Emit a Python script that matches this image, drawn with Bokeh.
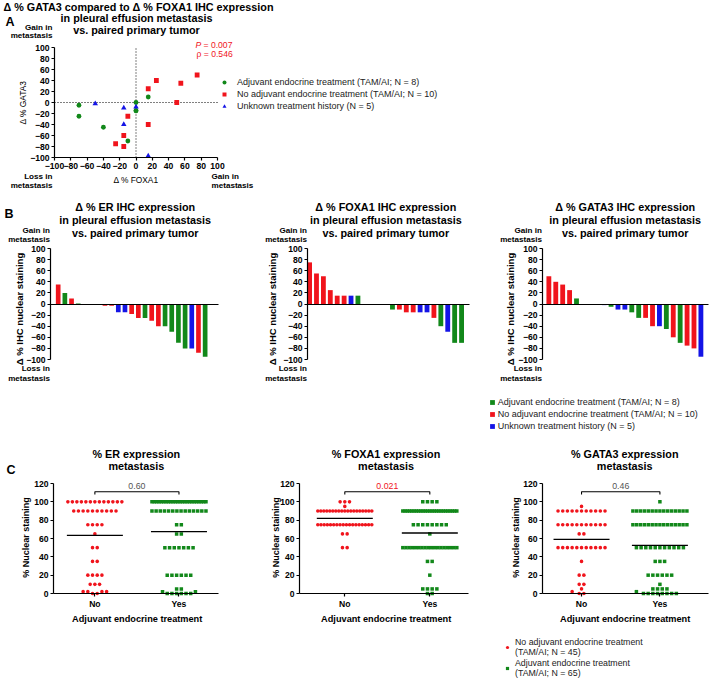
import math
from bokeh.plotting import figure
from bokeh.models import Label, Legend, LegendItem, Range1d, FixedTicker, ColumnDataSource
from bokeh.layouts import column, row
from bokeh.embed import file_html
from bokeh.resources import INLINE

FONT = "Liberation Sans"
RED, GREEN, BLUE = "#f0141c", "#12881a", "#1414e6"
MINUS = "\u2212"
TITLE_SIZE = "10.8px"
TICK_SIZE = "8.6px"

# ---------------- data ----------------
# Panel A: delta % FOXA1 (x) vs delta % GATA3 (y)
a_adj_foxa1 = [-70, -70, -40, 0, 0, 15, -10, 0]
a_adj_gata3 = [-5, -25, -45, 0, -15, 10, -70, -15]
a_noadj_foxa1 = [15, 25, 50, 55, 75, 15, -10, -15, -25, -15]
a_noadj_gata3 = [25, 40, 0, 35, 50, -40, -25, -60, -75, -80]
a_unk_foxa1 = [-50, -15, -15, 15, 0]
a_unk_gata3 = [-2, -10, -40, -97, -8]
a_legend = ["Adjuvant endocrine treatment (TAM/AI; N = 8)",
            "No adjuvant endocrine treatment (TAM/AI; N = 10)",
            "Unknown treatment history (N = 5)"]

# Panel B: waterfall bars (A = adjuvant, N = no adjuvant, U = unknown)
b_er = [35, 20, 10, 1, 0, 0, 0, -3, -3, -15, -15, -18, -25, -25, -30, -40, -40, -50, -70, -80, -80, -88, -95]
b_er_grp = ["N", "A", "N", "A", "N", "U", "U", "N", "N", "U", "U", "N", "N", "A", "N", "N", "A", "A", "A", "A", "U", "N", "A"]
b_foxa1 = [75, 55, 50, 25, 15, 15, 15, 15, 0, 0, 0, 0, -10, -10, -15, -15, -15, -15, -25, -40, -50, -70, -70]
b_foxa1_grp = ["N", "N", "N", "N", "N", "N", "U", "A", "A", "A", "A", "U", "A", "N", "N", "N", "U", "U", "N", "A", "U", "A", "A"]
b_gata3 = [50, 40, 35, 25, 10, 0, 0, 0, -2, -5, -10, -10, -15, -25, -25, -40, -40, -45, -60, -70, -75, -80, -95]
b_gata3_grp = ["N", "N", "N", "N", "A", "N", "A", "A", "U", "A", "U", "U", "A", "A", "N", "N", "U", "A", "N", "A", "N", "N", "U"]
b_titles = [["\u0394 % ER IHC expression", "in pleural effusion metastasis", "vs. paired primary tumor"],
            ["\u0394 % FOXA1 IHC expression", "in pleural effusion metastasis", "vs. paired primary tumor"],
            ["\u0394 % GATA3 IHC expression", "in pleural effusion metastasis", "vs. paired primary tumor"]]

# Panel C: % nuclear staining in metastasis (value / count pairs)
c_er_no_vals, c_er_no_counts = [100, 90, 75, 65, 50, 35, 20, 10, 2, 0], [13, 10, 4, 1, 2, 2, 4, 3, 4, 2]
c_er_yes_vals, c_er_yes_counts = [100, 90, 75, 65, 50, 20, 5, 2, 0], [24, 14, 2, 2, 7, 6, 2, 2, 6]
c_fox_no_vals, c_fox_no_counts = [100, 95, 90, 75, 65, 50], [3, 1, 19, 18, 2, 2]
c_fox_yes_vals, c_fox_yes_counts = [100, 90, 75, 65, 50, 35, 20, 5, 0], [4, 25, 8, 1, 18, 2, 1, 4, 2]
c_gata_no_vals, c_gata_no_counts = [95, 90, 75, 65, 50, 35, 20, 10, 5, 2, 0], [1, 11, 11, 2, 11, 1, 2, 2, 1, 1, 2]
c_gata_yes_vals, c_gata_yes_counts = [100, 90, 75, 50, 35, 20, 10, 5, 2, 0], [1, 15, 15, 11, 3, 6, 1, 4, 1, 8]
c_means = [[63.5, 67.5], [82, 66], [59, 52.5]]
c_pvals = ["0.60", "0.021", "0.46"]
c_titles = [["% ER expression", "metastasis"], ["% FOXA1 expression", "metastasis"], ["% GATA3 expression", "metastasis"]]
c_groups = ["No", "Yes"]
c_legend = ["No adjuvant endocrine treatment\n(TAM/AI; N = 45)", "Adjuvant endocrine treatment\n(TAM/AI; N = 65)"]


# ---------------- helpers ----------------
def make_fig(box, geom):
    """box = figure placement on the page; geom = where the data region sits on the page."""
    bx0, by0, w, h = box
    fx0, fx1, fy0, fy1, xr, yr = geom
    sx = (xr[1] - xr[0]) / (fx1 - fx0)
    sy = (yr[1] - yr[0]) / (fy1 - fy0)
    x_rng = Range1d(xr[0] - (fx0 - bx0) * sx, xr[1] + (bx0 + w - fx1) * sx)
    y_rng = Range1d(yr[0] - (by0 + h - fy1) * sy, yr[1] + (fy0 - by0) * sy)
    p = figure(width=w, height=h, x_range=x_rng, y_range=y_rng,
               output_backend="svg", toolbar_location=None,
               min_border=0, min_border_left=0, min_border_right=0,
               min_border_top=0, min_border_bottom=0)
    p.title.visible = False
    p.outline_line_color = None
    p.xgrid.visible = False
    p.ygrid.visible = False
    p.background_fill_color = "white"
    p.border_fill_color = "white"
    p.xaxis.fixed_location = yr[0]
    p.yaxis.fixed_location = xr[0]
    p.xaxis.bounds = xr
    p.yaxis.bounds = yr
    for ax in (p.xaxis, p.yaxis):
        ax.axis_line_color = "black"
        ax.axis_line_width = 1.2
        ax.major_tick_line_color = "black"
        ax.major_tick_line_width = 1.2
        ax.major_tick_out = 3
        ax.major_tick_in = 0
        ax.minor_tick_line_color = None
        ax.major_label_text_font = FONT
        ax.major_label_text_font_size = TICK_SIZE
        ax.major_label_text_font_style = "bold"
        ax.major_label_text_color = "black"
        ax.major_label_standoff = 2
    return p


def page_to_data(geom, px, py):
    fx0, fx1, fy0, fy1, xr, yr = geom
    x = xr[0] + (px - fx0) / (fx1 - fx0) * (xr[1] - xr[0])
    y = yr[1] - (py - fy0) / (fy1 - fy0) * (yr[1] - yr[0])
    return x, y


def text(p, geom, px, py, s, size="8.1px", style="bold", align="left", color="black", angle=0.0):
    x, y = page_to_data(geom, px, py)
    p.add_layout(Label(x=x, y=y, text=s, text_font=FONT, text_font_size=size,
                       text_font_style=style, text_align=align, text_baseline="middle",
                       text_color=color, angle=angle))


def num_ticks(ax, ticks):
    ax.ticker = FixedTicker(ticks=ticks)
    ax.major_label_overrides = {t: (MINUS + str(-t) if t < 0 else str(t)) for t in ticks}


def expand(vals, counts):
    out = []
    for v, c in zip(vals, counts):
        out += [v] * c
    return out


def swarm(values, xpx, ypx, d=4.7, cap=27.0):
    offs = [0.0] * len(values)
    placed = []
    for v in sorted(set(values)):
        idx = [i for i, w in enumerate(values) if w == v]
        n = len(idx)
        yy = v * ypx
        if n > 1 and (n - 1) * d > 2 * cap:
            s = 2 * cap / (n - 1)
            for k, i in enumerate(idx):
                offs[i] = (k - (n - 1) / 2) * s / xpx
            continue
        half = 0.5 if n % 2 == 0 else 0.0
        cands = []
        for k in range(40):
            for sg in (-1, 1):
                c = sg * (k + half) * d
                if c not in cands:
                    cands.append(c)
        chosen = []
        for c in cands:
            if len(chosen) == n:
                break
            if all(not (abs(c - qx) < 0.95 * d and abs(yy - qy) < 0.95 * d) for qx, qy in placed):
                chosen.append(c)
        chosen.sort()
        for i, c in zip(idx, chosen):
            offs[i] = c / xpx
        placed += [(c, yy) for c in chosen]
    return offs


def legend(items, loc, gw, gh, standoff, spacing, size):
    return Legend(items=items, location=loc, label_text_font=FONT, label_text_font_size=size,
                  label_text_color="#222222", glyph_width=gw, glyph_height=gh, label_height=10,
                  label_standoff=standoff, spacing=spacing, padding=0, margin=0,
                  border_line_color=None, background_fill_alpha=0)


cmap = {"A": GREEN, "N": RED, "U": BLUE}
VERT = math.pi / 2

# ---------------- Panel A ----------------
gA = (54, 217, 47, 157, (-100, 100), (-100, 100))
pA = make_fig((0, 0, 709, 196), gA)
ticksA = list(range(-100, 101, 20))
num_ticks(pA.xaxis, ticksA)
num_ticks(pA.yaxis, ticksA)
pA.line([0, 0], list(gA[5]), line_color="black", line_width=1, line_dash="1 2")
pA.line(list(gA[4]), [0, 0], line_color="black", line_width=1, line_dash="1 2")
rA1 = pA.scatter(a_adj_foxa1, a_adj_gata3, marker="circle", size=4.8, fill_color=GREEN, line_color=None)
rA2 = pA.scatter(a_noadj_foxa1, a_noadj_gata3, marker="square", size=4.8, fill_color=RED, line_color=None)
rA3 = pA.scatter(a_unk_foxa1, a_unk_gata3, marker="triangle", size=5.5, fill_color=BLUE, line_color=None)
pA.add_layout(legend([LegendItem(label=a_legend[0], renderers=[rA1]),
                      LegendItem(label=a_legend[1], renderers=[rA2]),
                      LegendItem(label=a_legend[2], renderers=[rA3])],
                     (219, 196 - 111), 10, 10, 8, 2, "9px"))
text(pA, gA, 138, 6, "\u0394 % GATA3 compared to \u0394 % FOXA1 IHC expression", size=TITLE_SIZE, align="center")
text(pA, gA, 136, 17.5, "in pleural effusion metastasis", size=TITLE_SIZE, align="center")
text(pA, gA, 136, 29.5, "vs. paired primary tumor", size=TITLE_SIZE, align="center")
text(pA, gA, 5, 21, "A", size="12.5px")
text(pA, gA, 52, 26.5, "Gain in", align="right")
text(pA, gA, 52, 35, "metastasis", align="right")
text(pA, gA, 52, 175.5, "Loss in", align="right")
text(pA, gA, 52, 184.5, "metastasis", align="right")
text(pA, gA, 211, 175.5, "Gain in")
text(pA, gA, 211, 184.5, "metastasis")
text(pA, gA, 195, 44, "P", size="8.6px", style="italic", color=RED)
text(pA, gA, 203, 44, "= 0.007", size="8.6px", style="normal", color=RED)
text(pA, gA, 196, 53, "\u03c1 = 0.546", size="8.6px", style="normal", color=RED)
text(pA, gA, 135.5, 179.5, "\u0394 % FOXA1", size="8.4px", style="normal", align="center")
text(pA, gA, 22.5, 102, "\u0394 % GATA3", size="8.4px", style="normal", align="center", angle=VERT)

# ---------------- Panel B ----------------
b_specs = [
    ((0, 196, 240, 240), (50, 218, 248, 359, (-1.15, 24.0), (-100, 100)), b_er, b_er_grp, 134.7, 19),
    ((240, 196, 240, 240), (307, 469, 248, 359, (-0.3, 23.15), (-100, 100)), b_foxa1, b_foxa1_grp, 385.3, 272),
    ((480, 196, 229, 240), (542, 708, 248, 359, (-0.92, 23.1), (-100, 100)), b_gata3, b_gata3_grp, 624.7, 510),
]
b_figs = []
for k, (box, g, vals, grp, tcx, ylx) in enumerate(b_specs):
    p = make_fig(box, g)
    num_ticks(p.yaxis, list(range(-100, 101, 20)))
    p.xaxis.fixed_location = 0
    p.xaxis.ticker = FixedTicker(ticks=[])
    src = ColumnDataSource(dict(x=list(range(len(vals))), top=vals, color=[cmap[c] for c in grp]))
    r = p.vbar(x="x", top="top", bottom=0, width=0.7, fill_color="color", line_color=None, source=src)
    for j, s in enumerate(b_titles[k]):
        text(p, g, tcx, [206.7, 219.3, 232][j], s, size=TITLE_SIZE, align="center")
    ax0 = g[0]
    text(p, g, ax0 - 0.5, 229.5, "Gain in", align="right")
    text(p, g, ax0 - 0.5, 239, "metastasis", align="right")
    text(p, g, ax0 - 0.5, 367.7, "Loss in", align="right")
    text(p, g, ax0 - 0.5, 377.5, "metastasis", align="right")
    text(p, g, ylx, 308.5, "\u0394 % IHC nuclear staining", size="9.5px", align="center", angle=VERT)
    if k == 0:
        text(p, g, 4, 213.5, "B", size="12.5px")
    if k == 2:
        first = {c: grp.index(c) for c in ("A", "N", "U")}
        p.add_layout(legend([LegendItem(label=a_legend[0], renderers=[r], index=first["A"]),
                             LegendItem(label=a_legend[1], renderers=[r], index=first["N"]),
                             LegendItem(label=a_legend[2], renderers=[r], index=first["U"])],
                            (488.7 - 480, 436 - 430.5), 6, 6, 3, 2, "9px"))
    b_figs.append(p)

# ---------------- Panel C ----------------
c_data = [
    (expand(c_er_no_vals, c_er_no_counts), expand(c_er_yes_vals, c_er_yes_counts)),
    (expand(c_fox_no_vals, c_fox_no_counts), expand(c_fox_yes_vals, c_fox_yes_counts)),
    (expand(c_gata_no_vals, c_gata_no_counts), expand(c_gata_yes_vals, c_gata_yes_counts)),
]
c_specs = [
    ((0, 436, 240, 244), (53, 218, 483, 593, (0.508, 2.47), (0, 120)), 135.8, 136.7, 25),
    ((240, 436, 240, 244), (299, 468, 483, 593, (0.467, 2.455), (0, 120)), 385.5, 385.7, 275.5),
    ((480, 436, 229, 244), (542, 708, 483, 593, (0.502, 2.62), (0, 120)), 624.2, 624.7, 515),
]
c_figs = []
for k, (box, g, tcx, xlx, ylx) in enumerate(c_specs):
    p = make_fig(box, g)
    num_ticks(p.yaxis, list(range(0, 121, 20)))
    p.xaxis.ticker = FixedTicker(ticks=[1, 2])
    p.xaxis.major_label_overrides = {1: c_groups[0], 2: c_groups[1]}
    xpx = (g[1] - g[0]) / (g[4][1] - g[4][0])
    ypx = (g[3] - g[2]) / (g[5][1] - g[5][0])
    no_vals, yes_vals = c_data[k]
    no_off = swarm(no_vals, xpx, ypx)
    yes_off = swarm(yes_vals, xpx, ypx)
    r_no = p.scatter([1 + o for o in no_off], no_vals, marker="circle", size=3.6,
                     fill_color=RED, line_color=None)
    r_yes = p.scatter([2 + o for o in yes_off], yes_vals, marker="square", size=3.5,
                      fill_color=GREEN, line_color=None)
    h = 28.0 / xpx
    p.segment(x0=[1 - h, 2 - h], x1=[1 + h, 2 + h], y0=c_means[k], y1=c_means[k],
              line_color="black", line_width=1.3)
    p.line(x=[1, 1, 2, 2], y=[108, 111, 111, 108], line_color="black", line_width=1.1)
    text(p, g, (g[0] + (1.5 - g[4][0]) * xpx), 485, c_pvals[k], size="8.8px", style="normal",
         align="center", color=(RED if k == 1 else "#555555"))
    text(p, g, tcx, 453.3, c_titles[k][0], size=TITLE_SIZE, align="center")
    text(p, g, tcx, 465.7, c_titles[k][1], size=TITLE_SIZE, align="center")
    text(p, g, xlx, 618, "Adjuvant endocrine treatment", size="9.2px", align="center")
    text(p, g, ylx, 537, "% Nuclear staining", size="9px", align="center", angle=VERT)
    if k == 0:
        text(p, g, 6, 469, "C", size="12.5px")
    if k == 2:
        p.add_layout(legend([LegendItem(label=c_legend[0], renderers=[r_no]),
                             LegendItem(label=c_legend[1], renderers=[r_yes])],
                            (503 - 480, 680 - 677.5), 8, 8, 4, 1, "8.8px"))
    c_figs.append(p)

layout = column(row(pA), row(*b_figs), row(*c_figs),
                styles={"position": "absolute", "left": "0px", "top": "0px"})
open("out.html", "w").write(file_html(layout, INLINE))
